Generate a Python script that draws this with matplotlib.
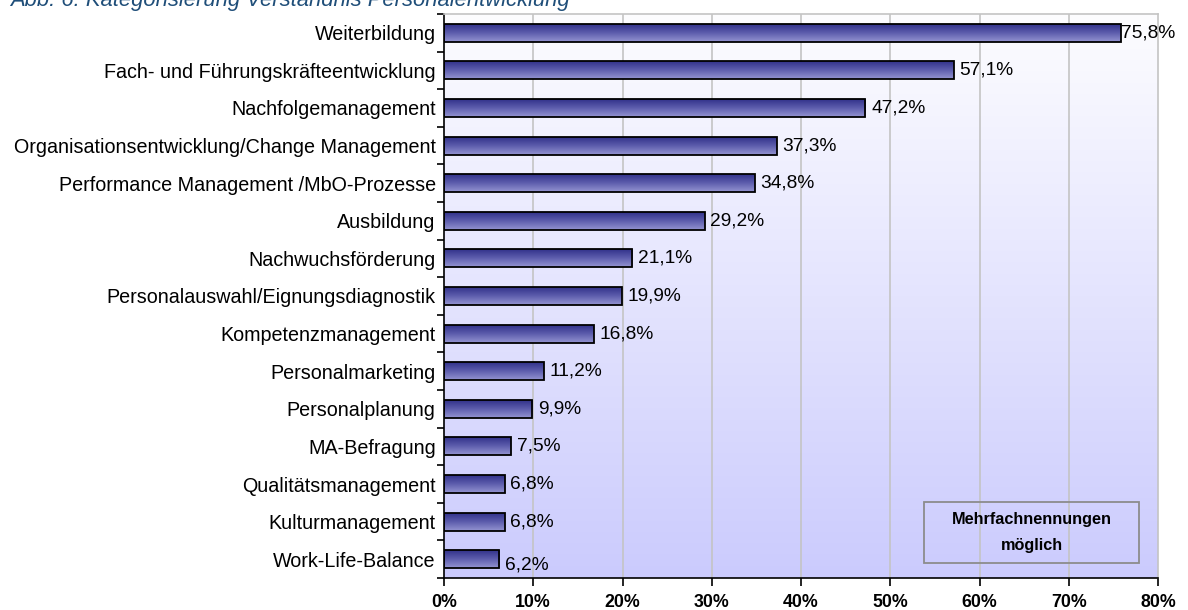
import numpy as np
import matplotlib.pyplot as plt
from matplotlib.colors import LinearSegmentedColormap
from matplotlib.patches import Rectangle
from matplotlib.ticker import FixedLocator

plt.rcParams['font.family'] = ['Liberation Sans', 'DejaVu Sans']

# ── Data ──────────────────────────────────────────────────────────────────────
categories = [
    "Weiterbildung",
    "Fach- und Führungskräfteentwicklung",
    "Nachfolgemanagement",
    "Organisationsentwicklung/Change Management",
    "Performance Management /MbO-Prozesse",
    "Ausbildung",
    "Nachwuchsförderung",
    "Personalauswahl/Eignungsdiagnostik",
    "Kompetenzmanagement",
    "Personalmarketing",
    "Personalplanung",
    "MA-Befragung",
    "Qualitätsmanagement",
    "Kulturmanagement",
    "Work-Life-Balance",
]
values = [75.8, 57.1, 47.2, 37.3, 34.8, 29.2, 21.1, 19.9, 16.8, 11.2, 9.9, 7.5, 6.8, 6.8, 6.2]
value_labels = ["75,8%", "57,1%", "47,2%", "37,3%", "34,8%", "29,2%", "21,1%", "19,9%",
                "16,8%", "11,2%", "9,9%", "7,5%", "6,8%", "6,8%", "6,2%"]
x_ticks = [0, 10, 20, 30, 40, 50, 60, 70, 80]
x_ticklabels = ["0%", "10%", "20%", "30%", "40%", "50%", "60%", "70%", "80%"]

title = "Abb. 6: Kategorisierung Verständnis Personalentwicklung"
note = "Mehrfachnennungen\nmöglich"

# ── Figure ────────────────────────────────────────────────────────────────────
W, H = 1188, 610
fig = plt.figure(figsize=(W / 100, H / 100), dpi=100)
ax = fig.add_axes([444 / W, 1 - 578 / H, 714 / W, 564 / H])

n = len(categories)
y = np.arange(n)

# plot area gradient (white at top -> lavender at bottom)
bg_cmap = LinearSegmentedColormap.from_list("bg", ["#fdfdff", "#cbcbfd"])
grad = np.linspace(0, 1, 256).reshape(-1, 1)
ax.imshow(grad, cmap=bg_cmap, aspect='auto', extent=[0, 80, n - 0.5, -0.5],
          zorder=0, interpolation='bicubic')

# grid lines
for xt in x_ticks[1:-1]:
    ax.axvline(xt, color='#c4c4c4', lw=1.2, zorder=1)

# bars with vertical gradient
bar_cmap = LinearSegmentedColormap.from_list("bar", ["#2c2c86", "#5b5bab", "#9595d2"])
bars = ax.barh(y, values, height=0.48, color='none', edgecolor='black', lw=1.3, zorder=3)
for rect in bars:
    x0, y0 = rect.get_x(), rect.get_y()
    w, h = rect.get_width(), rect.get_height()
    im = ax.imshow(grad, cmap=bar_cmap, aspect='auto', extent=[x0, x0 + w, y0 + h, y0],
                   zorder=2, interpolation='bicubic')
    im.set_clip_path(rect)
ax.set_xlim(0, 80)
ax.set_ylim(n - 0.5, -0.5)

# value labels
for i, (v, lab) in enumerate(zip(values, value_labels)):
    dy = 0.15 if i == n - 1 else 0.0
    dx = 0.1 if i == 0 else 0.65
    ax.text(v + dx, i + dy, lab, va='center', ha='left', fontsize=13.8, zorder=4)

# axes styling
for side in ('left', 'bottom'):
    ax.spines[side].set_color('black')
    ax.spines[side].set_linewidth(1.2)
for side in ('top', 'right'):
    ax.spines[side].set_color('#c4c4c4')
    ax.spines[side].set_linewidth(1.2)

ax.set_xticks(x_ticks)
ax.set_xticklabels(x_ticklabels, fontsize=12.8, fontweight='bold')
ax.tick_params(axis='x', length=6, width=1.2, pad=5.5, direction='out')

ax.set_yticks(y)
ax.set_yticklabels(categories, fontsize=14.2)
ax.tick_params(axis='y', length=0, pad=6)
ax.yaxis.set_minor_locator(FixedLocator(np.arange(-0.5, n, 1.0)))
ax.tick_params(axis='y', which='minor', length=5, width=1.2, direction='out')

# note box
bx0, bx1 = (924 - 444) / 714, (1139 - 444) / 714
by0, by1 = (578 - 563) / 564, (578 - 502) / 564
ax.add_patch(Rectangle((bx0, by0), bx1 - bx0, by1 - by0, transform=ax.transAxes,
                       facecolor='none', edgecolor='#8c8c8c', lw=1.3, zorder=5))
ax.text((bx0 + bx1) / 2, (by0 + by1) / 2, note, transform=ax.transAxes,
        ha='center', va='center', fontsize=11.7, fontweight='bold',
        linespacing=1.9, zorder=5)

# title, cropped at the top edge as in the source image
fig.text(10 / W, 1 - 6 / H, title, ha='left', va='baseline', fontsize=15.8,
         style='italic', color='#1f4e79')

fig.savefig("out.png", dpi=100)
